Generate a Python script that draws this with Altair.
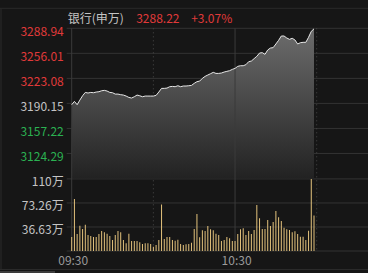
import altair as alt
import pandas as pd

# ---------------- data ----------------
minutes = list(range(90))  # minutes after 09:30
prices = [
    3188.4, 3192.8, 3188.4, 3194.5, 3200.2, 3204.6, 3203.8, 3204.6, 3204.2, 3205.1,
    3205.5, 3206.8, 3207.3, 3206.4, 3204.6, 3204.2, 3202.4, 3202.4, 3201.6, 3201.1,
    3199.8, 3198.0, 3197.2, 3198.9, 3201.1, 3200.2, 3198.9, 3199.8, 3199.8, 3199.8,
    3199.8, 3200.7, 3205.1, 3209.9, 3209.9, 3210.3, 3212.1, 3212.5, 3212.1, 3213.4,
    3212.1, 3213.0, 3213.0, 3213.4, 3213.8, 3216.5, 3218.7, 3219.5, 3223.1, 3225.7,
    3227.5, 3229.2, 3231.0, 3229.6, 3229.6, 3230.1, 3231.4, 3232.3, 3233.2, 3234.9,
    3236.2, 3238.9, 3239.7, 3239.7, 3241.1, 3245.0, 3245.9, 3249.0, 3252.1, 3256.4,
    3256.9, 3254.7, 3260.4, 3263.0, 3263.5, 3268.3, 3273.1, 3278.8, 3278.8, 3276.2,
    3274.4, 3275.8, 3273.6, 3268.3, 3270.0, 3270.5, 3270.5, 3277.1, 3284.9, 3288.22,
]
volumes = [  # 万
    21.4, 79.4, 26.0, 38.7, 33.6, 40.2, 24.4, 22.9, 21.4, 21.4,
    26.0, 30.5, 28.5, 26.5, 22.9, 16.8, 24.4, 30.5, 28.5, 16.8,
    11.7, 26.5, 15.3, 15.3, 15.3, 13.2, 10.7, 11.7, 11.7, 10.7,
    6.6, 9.2, 16.8, 70.8, 18.3, 21.4, 21.4, 16.8, 15.8, 17.3,
    10.7, 9.2, 10.2, 10.7, 12.7, 33.6, 56.5, 20.9, 31.6, 30.5,
    38.2, 33.1, 31.6, 26.5, 24.4, 15.3, 16.8, 21.4, 19.3, 15.3,
    15.3, 26.0, 33.1, 34.6, 24.4, 30.5, 26.0, 32.1, 70.2, 49.9,
    33.6, 33.6, 47.3, 38.2, 44.3, 61.1, 51.4, 45.8, 35.6, 33.1,
    32.1, 28.5, 30.0, 26.0, 21.9, 21.9, 16.8, 31.0, 110.0, 54.0,
]
price_levels = [3288.94, 3256.01, 3223.08, 3190.15, 3157.22, 3124.29]
price_labels = ["3288.94", "3256.01", "3223.08", "3190.15", "3157.22", "3124.29"]
price_tones = ["up", "up", "up", "flat", "down", "down"]
vol_levels = [110, 73.26, 36.63]
vol_labels = ["110万", "73.26万", "36.63万"]
time_ticks = [0, 60]
time_labels = ["09:30", "10:30"]
solid_ticks = [0, 60]
dotted_ticks = [30, 90]
title_parts = ["银行(申万)", "3288.22", "+3.07%"]
PRICE_DOMAIN = [3091.36, 3288.94]
VOL_DOMAIN = [0, 110]
X_DOMAIN = [0, 107]

# ---------------- styling ----------------
W, H = 301.3, 222.7
PRICE_RANGE = [150.2, 0]
VOL_RANGE = [H, 150.6]
BG = "#161616"
GRID = "#333333"
RED = "#e03a3a"
GREEN = "#2bb152"
GRAY_TXT = "#c4c4c4"
AXIS_TXT = "#9a9a9a"
BAR = "#e3c27c"
FONT = "Noto Sans CJK SC"
FW = 400

xs = alt.Scale(domain=X_DOMAIN, nice=False, zero=False)
ps = alt.Scale(domain=PRICE_DOMAIN, range=PRICE_RANGE, nice=False, zero=False)
vs = alt.Scale(domain=VOL_DOMAIN, range=VOL_RANGE, nice=False, zero=True)

series = pd.DataFrame({"m": minutes, "p": prices, "v": volumes, "base": PRICE_DOMAIN[0]})
plev = pd.DataFrame({"y": price_levels, "label": price_labels, "tone": price_tones})
vlev = pd.DataFrame({"y": vol_levels + [0], "label": vol_labels + [""]})
tt = pd.DataFrame({"m": time_ticks, "label": time_labels})
st = pd.DataFrame({"m": solid_ticks})
dt = pd.DataFrame({"m": dotted_ticks})
one = pd.DataFrame({"k": [0]})

price_grid = alt.Chart(plev).mark_rule(color=GRID, strokeWidth=1).encode(
    y=alt.Y("y:Q", scale=ps, axis=None), x=alt.value(0), x2=alt.value(W))
vol_grid = alt.Chart(vlev).mark_rule(color=GRID, strokeWidth=1).encode(
    y=alt.Y("y:Q", scale=vs, axis=None), x=alt.value(0), x2=alt.value(W))
solid_v = alt.Chart(st).mark_rule(color="#3a3a3a", strokeWidth=1).encode(
    x=alt.X("m:Q", scale=xs, axis=None), y=alt.value(0), y2=alt.value(H))
dotted_v = alt.Chart(dt).mark_rule(color="#4a4a4a", strokeWidth=1, strokeDash=[1, 3]).encode(
    x=alt.X("m:Q", scale=xs, axis=None), y=alt.value(0), y2=alt.value(H))

area = alt.Chart(series).mark_area(
    color=alt.Gradient(
        gradient="linear",
        stops=[alt.GradientStop(color="#6c6c6c", offset=0),
               alt.GradientStop(color="#222222", offset=1)],
        x1=1, x2=1, y1=0, y2=1),
    interpolate="linear",
).encode(
    x=alt.X("m:Q", scale=xs, axis=None),
    y=alt.Y("p:Q", scale=ps, axis=None),
    y2="base:Q",
)
line = alt.Chart(series).mark_line(color="#e6e6e6", strokeWidth=1).encode(
    x=alt.X("m:Q", scale=xs, axis=None),
    y=alt.Y("p:Q", scale=ps, axis=None),
)
bars = alt.Chart(series).mark_bar(color=BAR, size=1).encode(
    x=alt.X("m:Q", scale=xs, axis=None),
    y=alt.Y("v:Q", scale=vs, axis=None),
)

price_text = alt.Chart(plev).mark_text(
    align="right", baseline="middle", dy=3.5, fontSize=12, font=FONT, fontWeight=FW
).encode(
    x=alt.value(-3),
    y=alt.Y("y:Q", scale=ps, axis=None),
    text="label:N",
    color=alt.Color("tone:N", scale=alt.Scale(domain=["up", "flat", "down"],
                                              range=[RED, GRAY_TXT, GREEN]), legend=None),
)
vol_text = alt.Chart(vlev).mark_text(
    align="right", baseline="middle", dy=3.5, fontSize=12, font=FONT, fontWeight=FW,
    color=GRAY_TXT
).encode(
    x=alt.value(-3),
    y=alt.Y("y:Q", scale=vs, axis=None),
    text="label:N",
)
time_text = alt.Chart(tt).mark_text(
    align="center", baseline="middle", fontSize=12, font=FONT, fontWeight=FW,
    color=AXIS_TXT, dx=1.5
).encode(
    x=alt.X("m:Q", scale=xs, axis=None),
    y=alt.value(H + 10),
    text="label:N",
)

def title_text(txt, x, color):
    return alt.Chart(one).mark_text(
        align="left", baseline="middle", fontSize=12, font=FONT, fontWeight=FW,
        color=color
    ).encode(x=alt.value(x), y=alt.value(-9.5), text=alt.value(txt))

t1 = title_text(title_parts[0], 1, GRAY_TXT)
t2 = title_text(title_parts[1], 69.5, RED)
t3 = title_text(title_parts[2], 124.5, RED)

frame_top = alt.Chart(one).mark_rule(color="#2a2a2a").encode(
    x=alt.value(-66.7), x2=alt.value(W), y=alt.value(-20))
frame_left = alt.Chart(one).mark_rule(color="#2a2a2a").encode(
    x=alt.value(-65.7), y=alt.value(-20), y2=alt.value(H + 18))
frame_bottom = alt.Chart(one).mark_rule(color="#2a2a2a").encode(
    x=alt.value(-66.7), x2=alt.value(W), y=alt.value(H + 18.5))
scroll = alt.Chart(one).mark_rule(color="#3c3c3c", strokeWidth=2).encode(
    x=alt.value(-66.7), x2=alt.value(-11.7), y=alt.value(H + 21))

chart = alt.layer(
    price_grid, vol_grid, dotted_v, area, solid_v, line, bars,
    price_text, vol_text, time_text, t1, t2, t3,
    frame_top, frame_left, frame_bottom, scroll,
).resolve_scale(y="independent", color="independent").properties(
    width=W, height=H,
    autosize=alt.AutoSizeParams(type="none"),
    padding={"left": 66.7, "top": 28.3, "right": 0, "bottom": 22},
    background=BG,
).configure_view(stroke=None)

chart.save("out.html", embed_options={"renderer": "svg", "actions": False})
